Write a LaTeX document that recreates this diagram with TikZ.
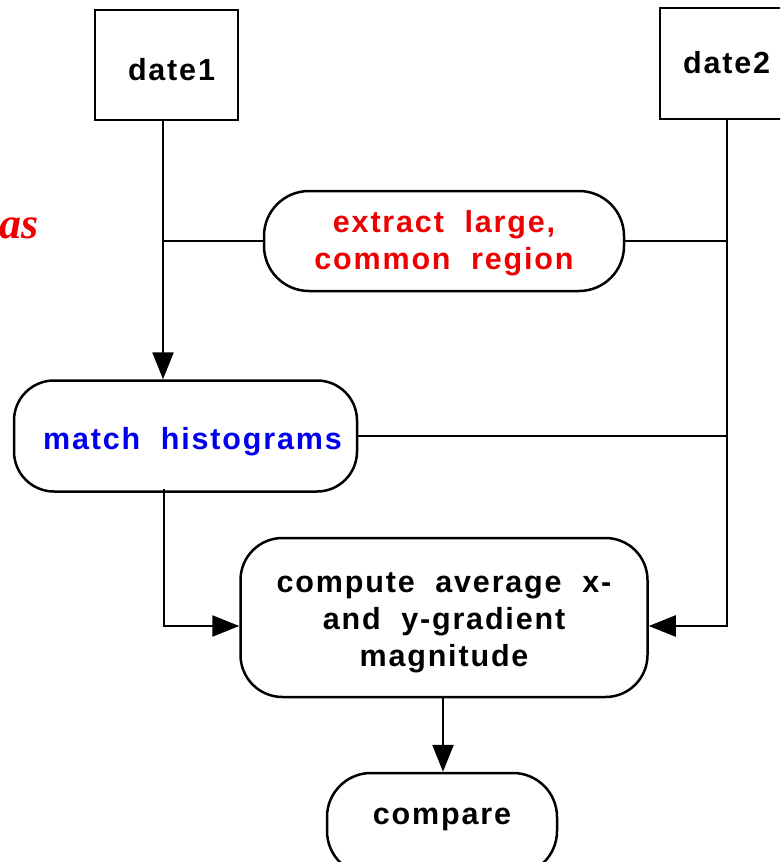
\documentclass[tikz,border=0pt]{standalone}
\usepackage{fontspec}
\setmainfont{Liberation Sans}[LetterSpace=6.0,WordSpace=2.0]
\newfontfamily\asfont{Liberation Serif}
\usetikzlibrary{arrows.meta}
\definecolor{mred}{RGB}{238,0,0}
\definecolor{mblue}{RGB}{0,0,238}
\begin{document}
\begin{tikzpicture}[x=1pt,y=-1pt,
  every node/.style={font=\fontsize{30.5}{37}\selectfont\bfseries},
  box/.style={draw,line width=2.5pt,rectangle,inner sep=0pt,align=center},
  flow/.style={line width=2.5pt},
  arr/.style={line width=2.5pt,-{Triangle[length=27pt,width=21pt]}}]
\useasboundingbox (0,0) rectangle (780,862);
\clip (0,0) rectangle (780,862);
% boxes
\node[box,minimum width=143pt,minimum height=110pt,text height=31pt,text depth=0pt] (date1) at (166.5,65) {\hspace*{10pt}date1};
\node[box,minimum width=220pt,minimum height=111pt] (date2) at (770,63.5) {};
\node[anchor=base west,inner sep=0pt] (date2text) at (683,73) {date2};
\node[box,rounded corners=45pt,minimum width=360pt,minimum height=100pt,text=mred] (extract) at (444,241) {\rule{0pt}{26pt}extract large,\\common region};
\node[box,rounded corners=40pt,minimum width=343pt,minimum height=111pt,text=mblue,text height=32pt,text depth=6pt] (match) at (185.5,436) {\hspace*{14pt}match histograms};
\node[box,rounded corners=42pt,minimum width=407pt,minimum height=159pt] (compute) at (444,617.5) {\rule{0pt}{30pt}compute average x-\\and y-gradient\\magnitude};
\node[box,rounded corners=44pt,minimum width=230pt,text height=51pt,text depth=51pt] (compare) at (442,824) {compare};
\node[anchor=base east,inner sep=0pt,text=mred,font=\asfont\fontsize{44}{50}\selectfont\bfseries\itshape] (astext) at (39,238) {as};
% junction coordinates
\coordinate (cl) at (163,241);
\coordinate (cr) at (727,241);
\coordinate (cb) at (727,626);
\coordinate (cm) at (164,626);
% connectors
\draw[arr] (cl |- date1.south) -- (cl |- match.north);
\draw[flow] (cl) -- (extract.west);
\draw[flow] (extract.east) -- (cr);
\draw[flow] (match.east) -- (match.east -| cr);
\draw[arr] (cr |- date2.south) -- (cb) -- (cb -| compute.east);
\draw[arr] ([yshift=4pt]cm |- match.south) -- (cm) -- (cm -| compute.west);
\draw[arr] (443,0 |- compute.south) -- (443,0 |- compare.north);
\end{tikzpicture}
\end{document}
